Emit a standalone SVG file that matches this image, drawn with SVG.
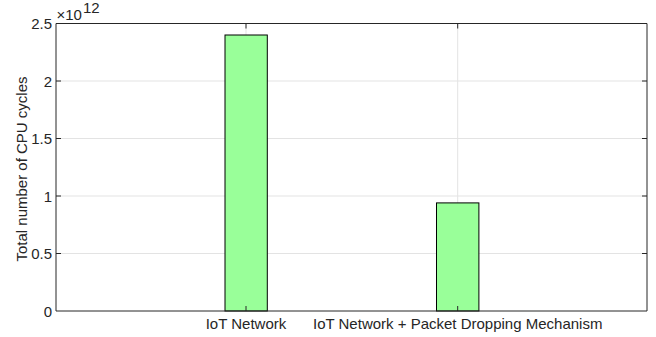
<svg xmlns="http://www.w3.org/2000/svg" width="656" height="337" viewBox="0 0 656 337">
<style>
text{font-family:"Liberation Sans",Arial,sans-serif;font-size:15px;fill:#262626}
.grid{stroke:#e3e3e3;stroke-width:1;fill:none}
.ax{stroke:#262626;stroke-width:1;fill:none}
.bar{fill:#99ff99;stroke:#000;stroke-width:1}
</style>
<rect width="656" height="337" fill="#fff"/>
<g id="grid">
<path class="grid" d="M56 253.5H647M56 196H647M56 138.5H647M56 81H647M246 23.5V311M457.7 23.5V311"/>
</g>
<g id="bar1"><rect class="bar" x="225" y="35" width="42.3" height="276"/></g>
<g id="bar2"><rect class="bar" x="436.5" y="202.9" width="42.4" height="108.1"/></g>
<g id="axes">
<path class="ax" d="M56 23.5H647V311H56Z"/>
<path class="ax" d="M56 253.5h5M56 196h5M56 138.5h5M56 81h5M56 23.5h5M246 311v-5M457.7 311v-5M246 23.5v5M457.7 23.5v5M647 253.5h-5M647 196h-5M647 138.5h-5M647 81h-5"/>
</g>
<g id="ticklabels" text-anchor="end">
<text x="52" y="316.5">0</text>
<text x="52" y="259">0.5</text>
<text x="52" y="201.5">1</text>
<text x="52" y="144">1.5</text>
<text x="52" y="86.5">2</text>
<text x="52" y="29">2.5</text>
</g>
<g id="xlabels" text-anchor="middle">
<text x="246" y="329">IoT Network</text>
<text x="457.7" y="329">IoT Network + Packet Dropping Mechanism</text>
</g>
<g id="exponent">
<text x="56.5" y="20" font-size="15.5">×10</text>
<text x="83" y="12.5" font-size="11.5">12</text>
</g>
<g id="ylabel"><text transform="translate(27 169) rotate(-90)" text-anchor="middle" font-size="14.5">Total number of CPU cycles</text></g>
</svg>
